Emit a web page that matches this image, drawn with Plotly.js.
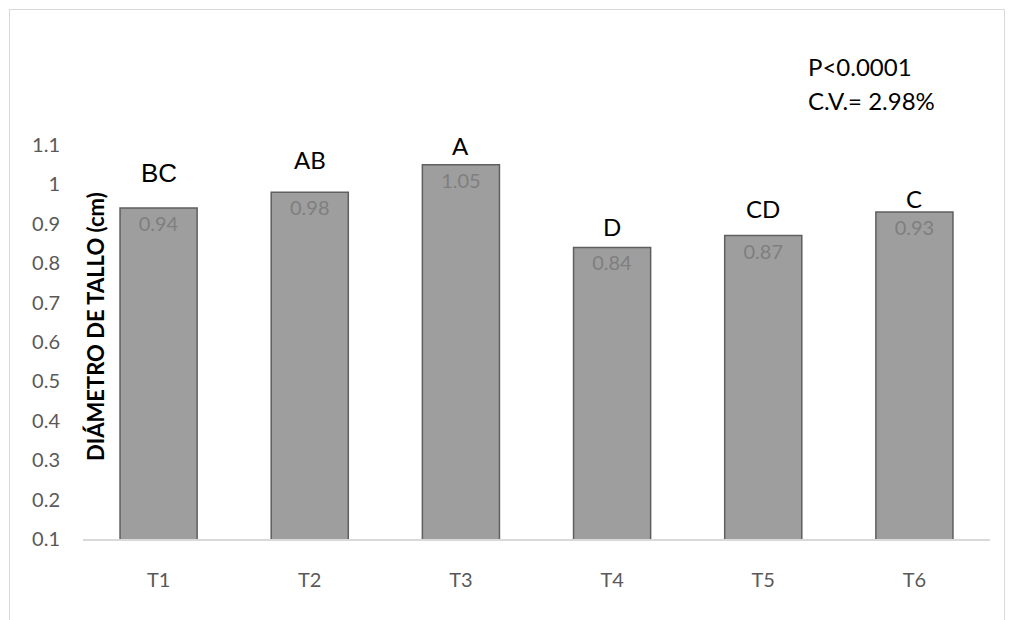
<!DOCTYPE html>
<html><head><meta charset="utf-8">
<script src="https://cdn.plot.ly/plotly-3.0.1.min.js"></script>
<style>
html,body{margin:0;padding:0;background:#fff;}
#frame{position:absolute;left:9px;top:9px;width:996px;height:700px;border:1.5px solid #d9d9d9;box-sizing:border-box;pointer-events:none;z-index:5;}
#chart{position:absolute;left:0;top:0;width:1009px;height:620px;}
</style></head>
<body>
<div id="chart"></div>
<div id="frame"></div>
<script>
var categories = ["T1","T2","T3","T4","T5","T6"];
var values = [0.94, 0.98, 1.05, 0.84, 0.87, 0.93];
var valueLabels = ["0.94","0.98","1.05","0.84","0.87","0.93"];
var letters = ["BC","AB","A","D","CD","C"];
var letterY = [1.029, 1.062, 1.10, 0.894, 0.940, 0.965];
var yTicks = [0.1,0.2,0.3,0.4,0.5,0.6,0.7,0.8,0.9,1,1.1];
var statLines = ["P<0.0001", "C.V.= 2.98%"];

var FONT = 'Lato, "Open Sans", sans-serif';

var trace = {
  type: 'bar', x: categories, y: values, base: 0,
  text: valueLabels, texttemplate: '%{text}',
  textposition: 'inside', insidetextanchor: 'end',
  textfont: {family: FONT, size: 20, color: '#7f7f7f'},
  marker: {color: '#9e9e9e', line: {color: '#5f5f5f', width: 1.5}},
  hoverinfo: 'none'
};

var annotations = categories.map(function(c, i){
  return {x: c, y: letterY[i], xref: 'x', yref: 'y', text: letters[i], showarrow: false,
    yanchor: 'middle',
    font: {family: i === 0 ? 'Liberation Sans, Arial, sans-serif' : FONT,
           size: i === 0 ? 26 : 24, color: '#000'}};
});
annotations.push({xref: 'paper', yref: 'paper', x: 0.013, y: 0.54, text: '<b>DIÁMETRO DE TALLO (cm)</b>',
  textangle: -90, showarrow: false, xanchor: 'center', yanchor: 'middle',
  font: {family: FONT, size: 22, color: '#000'}});
annotations.push({xref: 'paper', yref: 'paper', x: 0.797, y: 1.198, text: statLines[0],
  showarrow: false, xanchor: 'left', yanchor: 'middle', align: 'left',
  font: {family: FONT, size: 24, color: '#000'}});
annotations.push({xref: 'paper', yref: 'paper', x: 0.797, y: 1.114, text: statLines[1],
  showarrow: false, xanchor: 'left', yanchor: 'middle', align: 'left',
  font: {family: FONT, size: 24, color: '#000'}});

var layout = {
  width: 1009, height: 620,
  margin: {l: 83, r: 19, t: 145, b: 81},
  paper_bgcolor: '#fff', plot_bgcolor: '#fff',
  showlegend: false, bargap: 0.49,
  xaxis: {type: 'category', showline: true, linecolor: '#d9d9d9', linewidth: 1.5,
    ticks: '', showgrid: false, ticklabelstandoff: 22,
    tickfont: {family: FONT, size: 20, color: '#595959'}},
  yaxis: {range: [0.1, 1.1], tickvals: yTicks, ticktext: yTicks.map(String), showgrid: false,
    zeroline: false, showline: false, ticks: '', ticklabelstandoff: 22,
    tickfont: {family: FONT, size: 20, color: '#595959'}},
  annotations: annotations
};

Plotly.newPlot('chart', [trace], layout, {displayModeBar: false, staticPlot: true});
</script>
</body></html>
